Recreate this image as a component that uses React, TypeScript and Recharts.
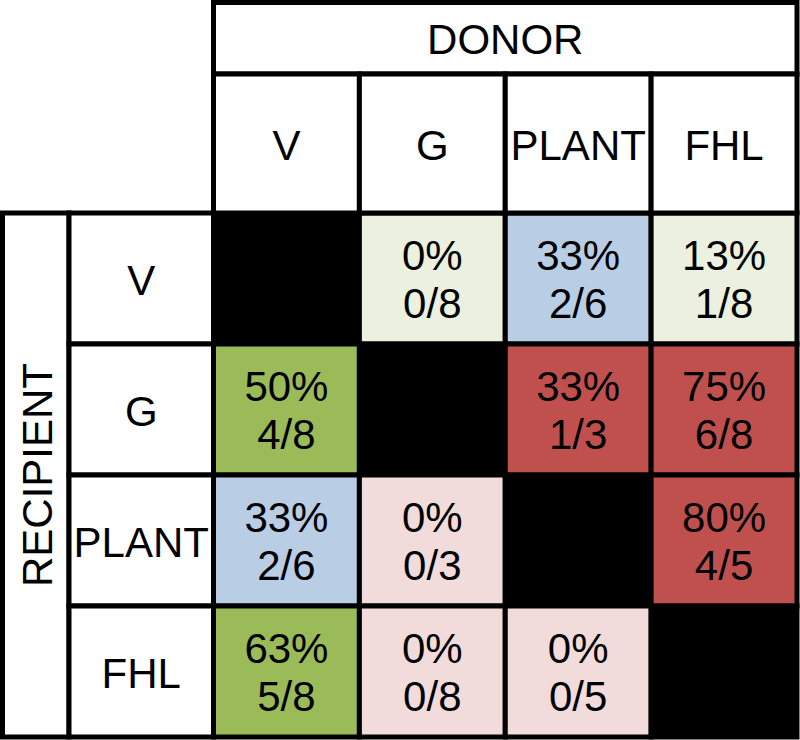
import { ScatterChart, Scatter, XAxis, YAxis, Customized } from 'recharts';

const donors = ['V', 'G', 'PLANT', 'FHL'];
const recipients = ['V', 'G', 'PLANT', 'FHL'];

// rows = recipient, cols = donor; null on the diagonal
const percents = [
  [null, 0, 33, 13],
  [50, null, 33, 75],
  [33, 0, null, 80],
  [63, 0, 0, null],
];
const fractions = [
  [null, '0/8', '2/6', '1/8'],
  ['4/8', null, '1/3', '6/8'],
  ['2/6', '0/3', null, '4/5'],
  ['5/8', '0/8', '0/5', null],
];
const cellColors = [
  ['#000000', '#EBF1DE', '#B9CDE5', '#EBF1DE'],
  ['#9BBB59', '#000000', '#C0504D', '#C0504D'],
  ['#B9CDE5', '#F2DCDB', '#000000', '#C0504D'],
  ['#9BBB59', '#F2DCDB', '#F2DCDB', '#000000'],
];

const W = 800;
const H = 740;
const LEFT = 213.5;
const TOP = 213;
const RIGHT = 3;
const BOTTOM = 3;
const colW = (W - LEFT - RIGHT) / donors.length;
const rowH = (H - TOP - BOTTOM) / recipients.length;
const FONT = '"Liberation Sans", Arial, sans-serif';
const SW = 5;

const cells = recipients.flatMap((r, i) =>
  donors.map((d, j) => ({
    x: j + 0.5,
    y: i + 0.5,
    pct: percents[i][j],
    frac: fractions[i][j],
    fill: cellColors[i][j],
  }))
);

const CellShape = (props: any) => {
  const { cx, cy, payload } = props;
  return (
    <g>
      <rect
        x={cx - colW / 2}
        y={cy - rowH / 2}
        width={colW}
        height={rowH}
        fill={payload.fill}
        stroke="#000"
        strokeWidth={SW}
      />
      {payload.pct !== null && (
        <text textAnchor="middle" fontFamily={FONT} fontSize={42} fill="#000">
          <tspan x={cx} y={cy - 9}>{`${payload.pct}%`}</tspan>
          <tspan x={cx} y={cy + 39}>{payload.frac}</tspan>
        </text>
      )}
    </g>
  );
};

const DonorTick = (props: any) => {
  const { x, payload } = props;
  const top = 74;
  return (
    <g>
      <rect x={x - colW / 2} y={top} width={colW} height={TOP - top} fill="#fff" stroke="#000" strokeWidth={SW} />
      <text x={x} y={(top + TOP) / 2 + 16} textAnchor="middle" fontFamily={FONT} fontSize={42} fill="#000">
        {donors[Math.floor(payload.value)]}
      </text>
    </g>
  );
};

const RecipientTick = (props: any) => {
  const { y, payload } = props;
  const left = 69;
  return (
    <g>
      <rect x={left} y={y - rowH / 2} width={LEFT - left} height={rowH} fill="#fff" stroke="#000" strokeWidth={SW} />
      <text x={(left + LEFT) / 2} y={y + 16} textAnchor="middle" fontFamily={FONT} fontSize={42} fill="#000">
        {recipients[Math.floor(payload.value)]}
      </text>
    </g>
  );
};

const TitleBoxes = () => (
  <g>
    <rect x={LEFT} y={2.5} width={W - RIGHT - LEFT} height={74 - 2.5} fill="#fff" stroke="#000" strokeWidth={SW} />
    <text x={(LEFT + W - RIGHT) / 2} y={38 + 16} textAnchor="middle" fontFamily={FONT} fontSize={42} fill="#000">
      DONOR
    </text>
    <rect x={2.5} y={TOP} width={69 - 2.5} height={H - BOTTOM - TOP} fill="#fff" stroke="#000" strokeWidth={SW} />
    <text
      x={36}
      y={(TOP + H - BOTTOM) / 2}
      transform={`rotate(-90 36 ${(TOP + H - BOTTOM) / 2})`}
      dy={16}
      textAnchor="middle"
      fontFamily={FONT}
      fontSize={42}
      fill="#000"
    >
      RECIPIENT
    </text>
  </g>
);

export default function App() {
  return (
    <div style={{ position: 'absolute', left: 0, top: 0, width: W, height: H, background: '#fff' }}>
      <ScatterChart width={W} height={H} margin={{ top: 0, right: RIGHT, bottom: BOTTOM, left: 0 }}>
        <Customized component={TitleBoxes} />
        <XAxis
          type="number"
          dataKey="x"
          orientation="top"
          domain={[0, 4]}
          ticks={[0.5, 1.5, 2.5, 3.5]}
          height={TOP}
          axisLine={false}
          tickLine={false}
          tick={<DonorTick />}
        />
        <YAxis
          type="number"
          dataKey="y"
          reversed
          domain={[0, 4]}
          ticks={[0.5, 1.5, 2.5, 3.5]}
          width={LEFT}
          axisLine={false}
          tickLine={false}
          tick={<RecipientTick />}
        />
        <Scatter data={cells} shape={<CellShape />} isAnimationActive={false} />
      </ScatterChart>
    </div>
  );
}
